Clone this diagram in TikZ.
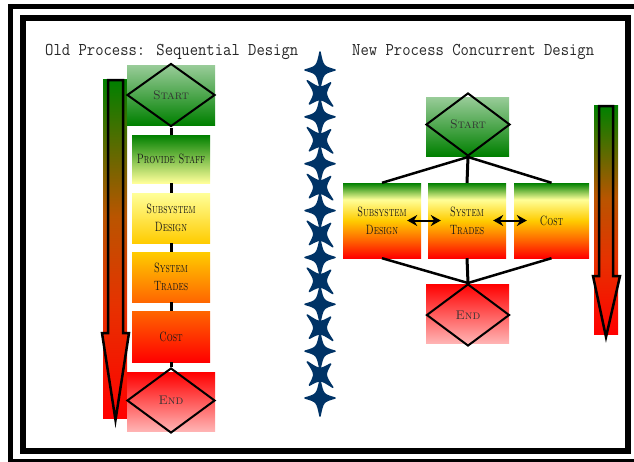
\documentclass[tikz,border=0pt]{standalone}
\usepackage{fontspec}
\usepackage{graphicx}
\usetikzlibrary{shapes.geometric,arrows.meta}

\definecolor{leafgreen}{RGB}{0,128,0}
\definecolor{palegreen}{RGB}{153,204,153}
\definecolor{paleyellow}{RGB}{255,255,153}
\definecolor{gold}{RGB}{255,204,0}
\definecolor{tangerine}{RGB}{255,102,0}
\definecolor{purered}{RGB}{255,0,0}
\definecolor{blush}{RGB}{255,179,179}
\definecolor{navy}{RGB}{0,51,102}
\definecolor{rust}{RGB}{185,85,0}
\definecolor{ember}{RGB}{230,50,0}

% green -> pale yellow -> gold -> orange -> red, top to bottom
\pgfdeclareverticalshading{spectrum}{100bp}{color(0bp)=(purered); color(25bp)=(purered);
  color(37bp)=(tangerine); color(50bp)=(gold); color(64bp)=(paleyellow);
  color(75bp)=(leafgreen); color(100bp)=(leafgreen)}
% block arrow fill: green at the top, red at the tip
\pgfdeclareverticalshading{timeflow}{100bp}{color(0bp)=(purered); color(25bp)=(purered);
  color(42bp)=(ember); color(55bp)=(rust); color(75bp)=(leafgreen); color(100bp)=(leafgreen)}

\newcommand\sqsc[1]{\scalebox{0.7}[1]{\textsc{#1}}}
\newcommand\sqtitle[1]{\scalebox{0.9}[1]{#1}}

\begin{document}
\begin{tikzpicture}[x=1pt,y=-1pt,
  titletext/.style={anchor=base west, inner sep=0, text=black!85,
    font=\ttfamily\fontsize{18}{22}\selectfont},
  stepbox/.style={rectangle, inner sep=0, align=center, text=black!90,
    font=\fontsize{13.5}{18}\selectfont},
  panel/.style={rectangle, inner sep=0},
  decision/.style={diamond, draw=black, line width=2pt, inner sep=0, text=black!80,
    font=\fontsize{12.5}{14}\selectfont},
  link/.style={draw=black, line width=3pt},
  slant/.style={draw=black, line width=2.5pt},
  swap/.style={{Stealth[length=10pt,width=11pt]}-{Stealth[length=10pt,width=11pt]}, line width=2pt},
  blockarrow/.style={draw=black, line width=2.5pt, shading=timeflow},
  sparkle/.pic={\filldraw[navy, line width=1.5pt, line join=round]
    (0,-18) .. controls (3,-3.5) .. (15,0) .. controls (3,3.5) .. (0,18)
    .. controls (-3,3.5) .. (-15,0) .. controls (-3,-3.5) .. cycle;}
]
\useasboundingbox (0,0) rectangle (634,461);

% double frame
\draw[line width=5pt] (10.5,6.5) rectangle (645,461);
\draw[line width=6pt] (23,17.5) rectangle (627.5,450.5);

% headings
\node[titletext] (oldtitle) at (45,55) {\sqtitle{Old Process: Sequential Design}};
\node[titletext] (newtitle) at (352,55) {\sqtitle{New Process Concurrent Design}};

% ---------- sequential flow ----------
\shade[shading=timeflow] (103,79) rectangle (127,418);
\path[blockarrow] (108,80) -- (123,80) -- (123,333) -- (129,333) -- (115.5,420)
  -- (102,333) -- (108,333) -- cycle;

\node[panel, minimum width=88, minimum height=60, top color=palegreen, bottom color=leafgreen]
  (lstartbg) at (171,95) {};
\node[decision, minimum width=88, minimum height=63] (lstart) at (171,95) {\textsc{Start}};
\node[stepbox, minimum width=78, minimum height=48, top color=leafgreen, bottom color=paleyellow]
  (lstaff) at (171,159) {\sqsc{Provide Staff}};
\node[stepbox, minimum width=78, minimum height=50, top color=paleyellow, bottom color=gold]
  (lsub) at (171,218) {\sqsc{Subsystem}\\\sqsc{Design}};
\node[stepbox, minimum width=78, minimum height=50, top color=gold, bottom color=tangerine]
  (ltrades) at (171,277) {\sqsc{System}\\\sqsc{Trades}};
\node[stepbox, minimum width=78, minimum height=51, top color=tangerine, bottom color=purered]
  (lcost) at (171,336.5) {\sqsc{Cost}};
\node[panel, minimum width=88, minimum height=59, top color=purered, bottom color=blush]
  (lendbg) at (171,401.5) {};
\node[decision, minimum width=88, minimum height=65] (lend) at (171,400.5) {\textsc{End}};

\draw[link] (lstart) -- (lstaff);
\draw[link] (lstaff) -- (lsub);
\draw[link] (lsub) -- (ltrades);
\draw[link] (ltrades) -- (lcost);
\draw[link] (lcost) -- (lend);

% ---------- divider of sparkles ----------
\foreach \k in {0,...,7} {
  \pic at (320,{70+46.86*\k}) {sparkle};
}
\foreach \k in {0,...,6} {
  \pic[rotate=45] at (320,{93.4+46.86*\k}) {sparkle};
}

% ---------- concurrent flow ----------
\node[panel, minimum width=83, minimum height=59, top color=palegreen, bottom color=leafgreen]
  (rstartbg) at (467.5,126.5) {};
\node[decision, minimum width=84, minimum height=63] (rstart) at (468,124.5) {\textsc{Start}};

\node[stepbox, minimum width=78, minimum height=75, shading=spectrum]
  (rsub) at (382,220.5) {\sqsc{Subsystem}\\\sqsc{Design}};
\node[stepbox, minimum width=78, minimum height=75, shading=spectrum]
  (rtrades) at (467,220.5) {\sqsc{System}\\\sqsc{Trades}};
\node[stepbox, minimum width=75, minimum height=75, shading=spectrum]
  (rcost) at (551.5,220.5) {\sqsc{Cost}};

\node[panel, minimum width=83, minimum height=59, top color=purered, bottom color=blush]
  (rendbg) at (467.5,313.5) {};
\node[decision, minimum width=83, minimum height=62] (rend) at (468,315) {\textsc{End}};

\draw[slant] (rstart.south) -- (rsub.north);
\draw[link]  (rstart.south) -- (rtrades.north);
\draw[slant] (rstart.south) -- (rcost.north);
\draw[slant] (rsub.south) -- (rend.north);
\draw[link]  (rtrades.south) -- (rend.north);
\draw[slant] (rcost.south) -- (rend.north);

\draw[swap] ([xshift=-14pt]rsub.east) -- ([xshift=13pt]rtrades.west);
\draw[swap] ([xshift=-13pt]rtrades.east) -- ([xshift=13pt]rcost.west);

\shade[shading=timeflow] (594,105) rectangle (618,334);
\path[blockarrow] (599,106) -- (613,106) -- (613,276) -- (620,276) -- (606,337)
  -- (593,276) -- (599,276) -- cycle;
\end{tikzpicture}
\end{document}
